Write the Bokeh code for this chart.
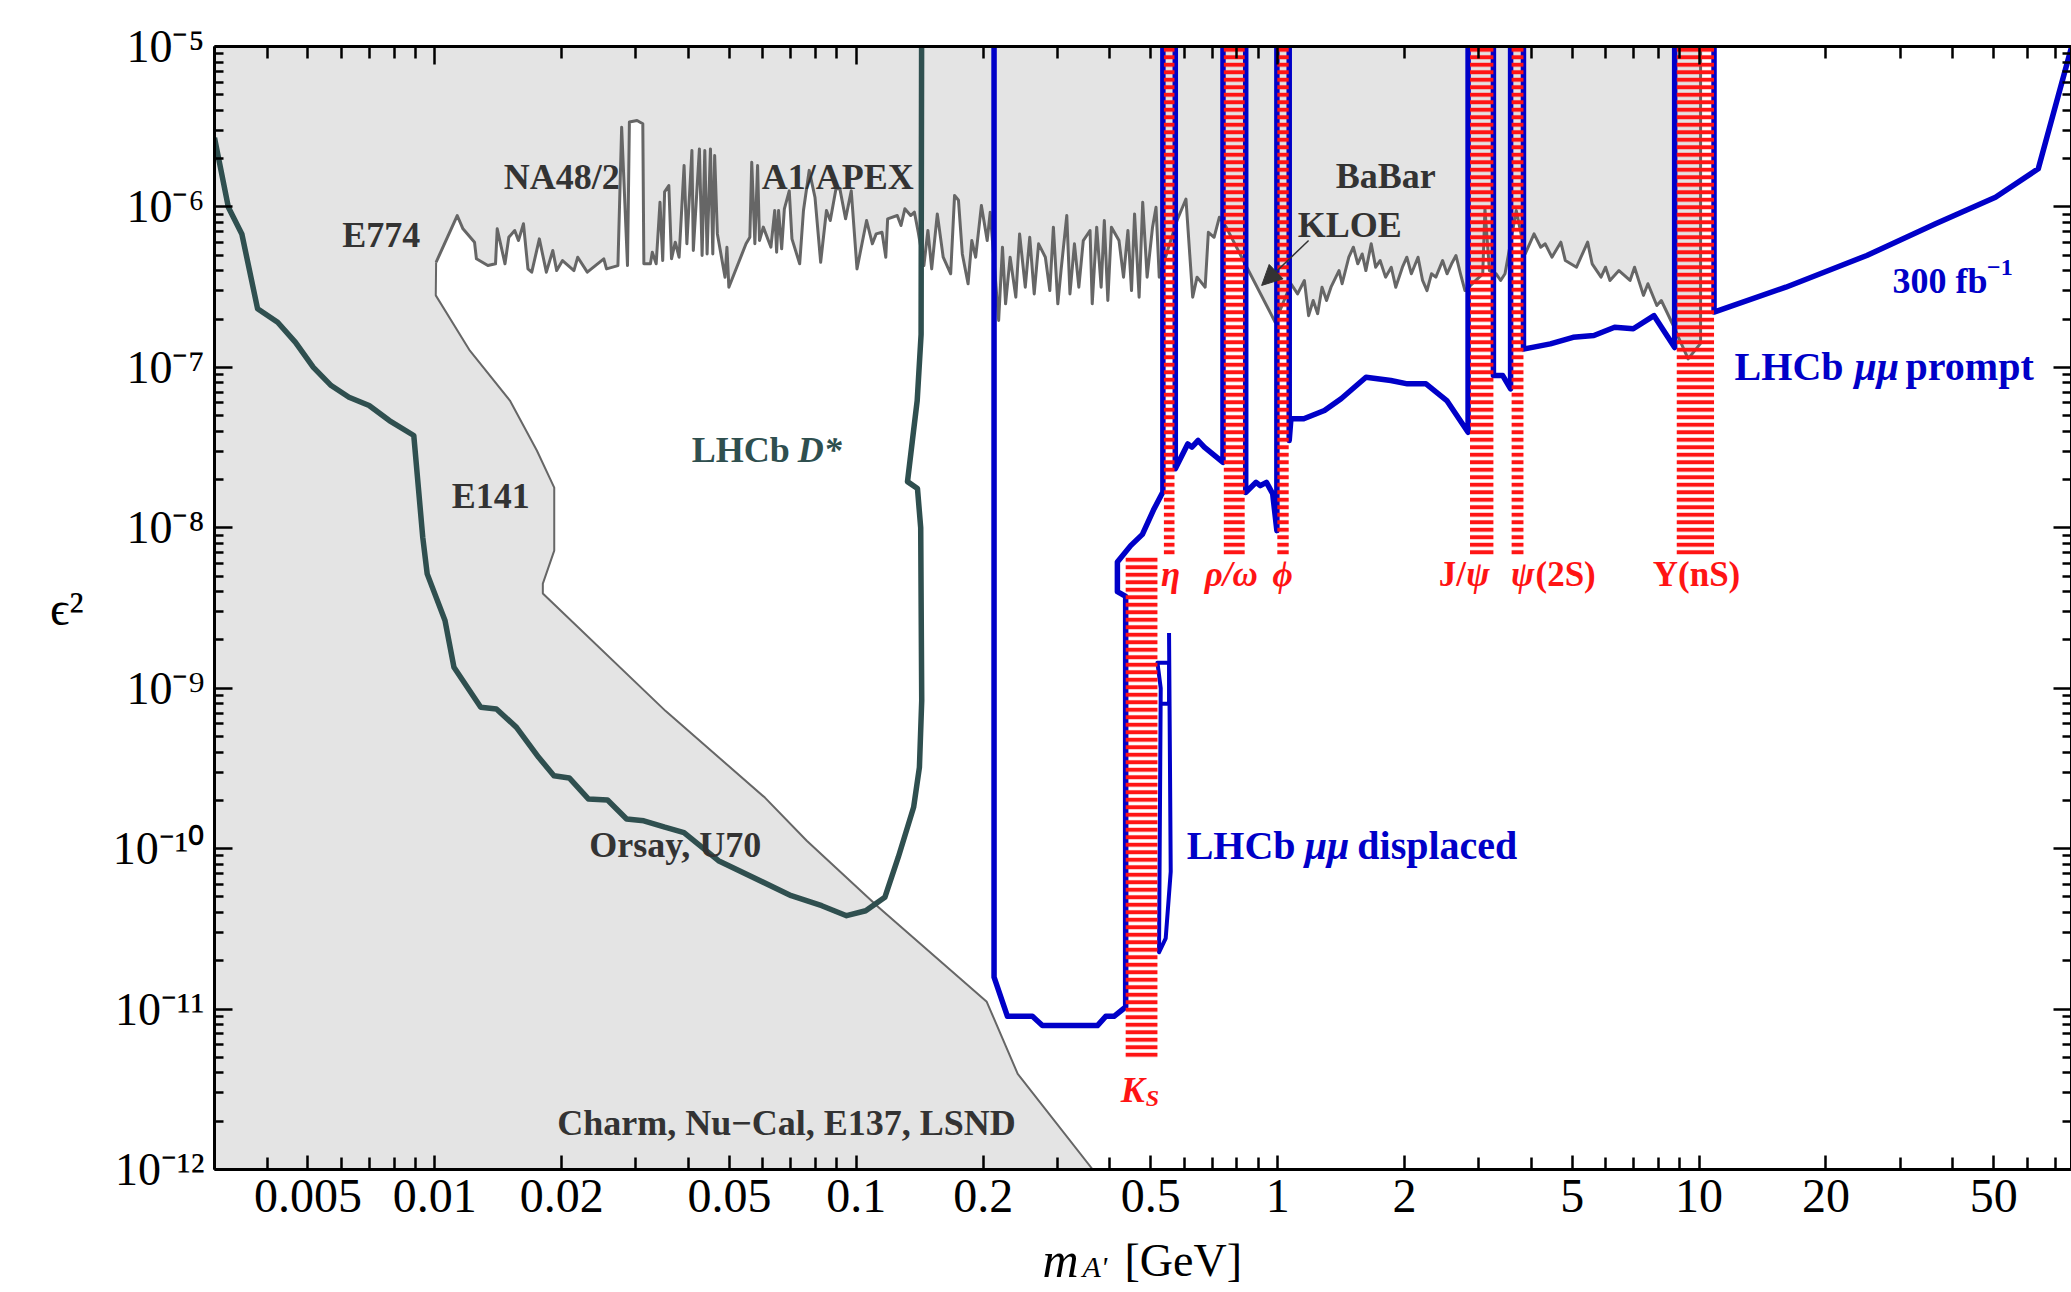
from bokeh.plotting import figure
from bokeh.models import Range1d, FixedTicker, LogAxis, Label, Arrow, NormalHead
from bokeh.embed import file_html
from bokeh.resources import INLINE

# ---------------- data (m in GeV, eps^2) ----------------
# upper bound of the allowed window: E774 corner, NA48/2, A1/APEX, KLOE, BaBar
upper_bound = [
    (0.01007, 4.52e-7), (0.01130, 8.84e-7), (0.01166, 7.30e-7), (0.01242, 6.03e-7), (0.01255, 4.75e-7),
    (0.01336, 4.31e-7), (0.01393, 4.42e-7), (0.01406, 7.30e-7), (0.01467, 4.42e-7), (0.01498, 6.47e-7),
    (0.01547, 7.13e-7), (0.01579, 6.17e-7), (0.01623, 7.85e-7), (0.01663, 4.11e-7), (0.01698, 3.92e-7),
    (0.01770, 6.32e-7), (0.01839, 3.92e-7), (0.01905, 5.35e-7), (0.01946, 4.01e-7), (0.02009, 4.63e-7),
    (0.02138, 4.01e-7), (0.02183, 4.86e-7), (0.02300, 3.92e-7), (0.02517, 4.75e-7), (0.02555, 4.11e-7),
    (0.02719, 4.31e-7), (0.02775, 3.14e-6), (0.02865, 4.31e-7), (0.02895, 3.38e-6), (0.03018, 3.46e-6),
    (0.03115, 3.30e-6), (0.03133, 4.42e-7), (0.03247, 4.42e-7), (0.03281, 5.22e-7), (0.03351, 4.42e-7),
    (0.03422, 1.07e-6), (0.03473, 4.63e-7), (0.03509, 1.24e-6), (0.03591, 1.36e-6), (0.03644, 4.75e-7),
    (0.03720, 6.03e-7), (0.03798, 4.86e-7), (0.03903, 1.81e-6), (0.03963, 5.89e-7), (0.04074, 2.25e-6),
    (0.04105, 5.35e-7), (0.04244, 2.30e-6), (0.04307, 4.98e-7), (0.04371, 2.25e-6), (0.04426, 5.09e-7),
    (0.04508, 2.30e-6), (0.04566, 5.09e-7), (0.04613, 2.09e-6), (0.04682, 6.79e-7), (0.04881, 3.65e-7),
    (0.04933, 5.61e-7), (0.04985, 3.16e-7), (0.05475, 5.89e-7), (0.05591, 6.47e-7), (0.05649, 1.90e-6),
    (0.05746, 5.89e-7), (0.05832, 1.81e-6), (0.05893, 6.17e-7), (0.06017, 7.48e-7), (0.06273, 5.61e-7),
    (0.06405, 9.50e-7), (0.06472, 5.22e-7), (0.06541, 9.50e-7), (0.06652, 5.48e-7), (0.06751, 9.73e-7),
    (0.06934, 1.26e-6), (0.07037, 6.32e-7), (0.07340, 4.42e-7), (0.07494, 9.50e-7), (0.07732, 1.69e-6),
    (0.07980, 1.15e-6), (0.08232, 4.52e-7), (0.08497, 9.50e-7), (0.08676, 8.23e-7), (0.08951, 1.30e-6),
    (0.09141, 1.30e-6), (0.09432, 8.43e-7), (0.09730, 1.26e-6), (0.1004, 4.11e-7), (0.1058, 8.23e-7),
    (0.1092, 5.89e-7), (0.1115, 6.79e-7), (0.1151, 6.95e-7), (0.1175, 4.86e-7), (0.1187, 8.43e-7),
    (0.1251, 8.84e-7), (0.1277, 7.66e-7), (0.1304, 9.73e-7), (0.1346, 8.84e-7), (0.1374, 9.27e-7),
    (0.1403, 6.95e-7), (0.1447, 4.31e-7), (0.1479, 7.13e-7), (0.1510, 4.11e-7), (0.1557, 9.05e-7),
    (0.1608, 4.86e-7), (0.1675, 3.83e-7), (0.1711, 1.18e-6), (0.1748, 1.10e-6), (0.1785, 5.09e-7),
    (0.1842, 3.32e-7), (0.1880, 6.17e-7), (0.1920, 4.86e-7), (0.1981, 1.02e-6), (0.2045, 6.17e-7),
    (0.2079, 9.27e-7), (0.2177, 1.96e-7), (0.2223, 5.61e-7), (0.2261, 2.49e-7), (0.2318, 4.86e-7),
    (0.2391, 2.74e-7), (0.2441, 6.79e-7), (0.2518, 3.16e-7), (0.2580, 6.47e-7), (0.2644, 2.87e-7),
    (0.2708, 5.89e-7), (0.2810, 4.86e-7), (0.2879, 3.01e-7), (0.2936, 7.48e-7), (0.3008, 2.49e-7),
    (0.3061, 4.01e-7), (0.3159, 8.84e-7), (0.3214, 2.87e-7), (0.3294, 5.89e-7), (0.3374, 3.16e-7),
    (0.3457, 6.17e-7), (0.3587, 7.13e-7), (0.3630, 2.49e-7), (0.3720, 7.48e-7), (0.3811, 3.16e-7),
    (0.3878, 8.23e-7), (0.3953, 2.61e-7), (0.4032, 7.48e-7), (0.4202, 6.17e-7), (0.4307, 3.65e-7),
    (0.4412, 7.13e-7), (0.4499, 3.01e-7), (0.4575, 9.05e-7), (0.4690, 2.74e-7), (0.4783, 1.07e-6),
    (0.4900, 3.65e-7), (0.5047, 7.48e-7), (0.5144, 9.96e-7), (0.5235, 3.65e-7), (0.5769, 8.23e-7),
    (0.6058, 1.12e-6), (0.6285, 2.74e-7), (0.6437, 3.65e-7), (0.6728, 3.16e-7), (0.6847, 6.95e-7),
    (0.7064, 6.47e-7), (0.7272, 8.63e-7), (0.7546, 7.48e-7), (0.9865, 1.91e-7), (1.075, 3.32e-7),
    (1.115, 2.87e-7), (1.157, 3.48e-7), (1.184, 2.10e-7), (1.214, 2.61e-7), (1.244, 2.16e-7),
    (1.274, 3.16e-7), (1.306, 2.61e-7), (1.338, 3.16e-7), (1.398, 4.01e-7), (1.422, 3.32e-7),
    (1.475, 4.86e-7), (1.512, 5.61e-7), (1.549, 4.42e-7), (1.587, 5.09e-7), (1.619, 4.01e-7),
    (1.667, 5.89e-7), (1.708, 4.21e-7), (1.750, 4.63e-7), (1.803, 3.65e-7), (1.860, 4.21e-7),
    (1.906, 3.16e-7), (1.977, 4.21e-7), (2.025, 4.86e-7), (2.076, 3.83e-7), (2.153, 4.86e-7),
    (2.207, 3.48e-7), (2.261, 3.01e-7), (2.317, 3.83e-7), (2.373, 3.65e-7), (2.462, 4.63e-7),
    (2.523, 3.83e-7), (2.586, 4.42e-7), (2.649, 4.98e-7), (2.715, 3.83e-7), (2.782, 3.01e-7),
    (3.066, 3.83e-7), (3.103, 9.73e-7), (3.180, 4.01e-7), (3.299, 3.83e-7), (3.381, 3.48e-7),
    (3.463, 3.83e-7), (3.682, 9.50e-7), (3.866, 5.09e-7), (4.058, 6.79e-7), (4.209, 5.61e-7),
    (4.314, 5.89e-7), (4.475, 4.86e-7), (4.698, 6.03e-7), (4.815, 4.63e-7), (5.118, 4.21e-7),
    (5.243, 4.86e-7), (5.439, 6.03e-7), (5.574, 4.42e-7), (5.853, 3.65e-7), (5.998, 4.21e-7),
    (6.144, 3.48e-7), (6.453, 4.01e-7), (6.857, 3.48e-7), (7.027, 4.21e-7), (7.378, 2.81e-7),
    (7.560, 3.32e-7), (7.937, 2.43e-7), (8.134, 2.61e-7), (8.643, 1.87e-7), (9.418, 1.13e-7),
    (10.08, 1.41e-7), (10.08, 1.0e-5),
]

# E141 / beam-dump (Charm, Nu-Cal, E137, LSND) boundary, from E774 corner down
beam_dump = [
    (0.01007, 4.52e-7), (0.01005, 2.81e-7), (0.01211, 1.27e-7), (0.01507, 6.21e-8), (0.01746, 3.03e-8),
    (0.0192, 1.78e-8), (0.0192, 7.21e-9), (0.01804, 4.49e-9), (0.01804, 3.89e-9), (0.0353, 7.2e-10),
    (0.0607, 2.08e-10), (0.0763, 1.12e-10), (0.1131, 4.29e-11), (0.204, 1.11e-11), (0.2416, 3.95e-12),
    (0.364, 1.0e-12),
]

# LHCb D* projection
dstar = [
    (0.003, 2.7e-6), (0.003236, 9.96e-7), (0.003483, 6.79e-7), (0.003796, 2.32e-7), (0.004236, 1.91e-7),
    (0.004670, 1.43e-7), (0.005149, 1.00e-7), (0.005675, 7.70e-8), (0.006256, 6.51e-8), (0.006982, 5.78e-8),
    (0.007798, 4.66e-8), (0.008913, 3.76e-8), (0.00936, 8.73e-9), (0.00959, 5.16e-9), (0.01057, 2.64e-9),
    (0.01110, 1.35e-9), (0.01285, 7.60e-10), (0.01400, 7.43e-10), (0.01562, 5.70e-10), (0.01763, 3.71e-10),
    (0.01917, 2.85e-10), (0.02084, 2.76e-10), (0.02313, 2.04e-10), (0.02569, 2.01e-10), (0.02851, 1.53e-10),
    (0.03132, 1.49e-10), (0.03513, 1.36e-10), (0.03901, 1.26e-10), (0.04709, 8.41e-11), (0.07009, 5.09e-11),
    (0.08282, 4.41e-11), (0.09484, 3.82e-11), (0.1053, 4.10e-11), (0.1169, 4.97e-11), (0.1258, 8.84e-11),
    (0.1368, 1.81e-10), (0.1412, 3.21e-10), (0.1430, 8.4e-10), (0.1422, 1.0e-8), (0.1397, 1.76e-8),
    (0.1323, 1.94e-8), (0.1359, 3.51e-8), (0.1395, 6.2e-8), (0.1425, 1.6e-7), (0.1430, 3.0e-5),
]

# LHCb mu-mu displaced + prompt (300 fb^-1) contour
lhcb = [
    (0.2123, 3.0e-5), (0.2123, 1.58e-11), (0.2284, 9.01e-12), (0.2618, 9.01e-12), (0.2765, 7.89e-12),
    (0.3735, 7.89e-12), (0.3908, 9.01e-12), (0.4089, 9.01e-12), (0.4358, 1.03e-11), (0.4358, 3.74e-9),
    (0.4165, 4.0e-9), (0.4165, 6.12e-9), (0.4479, 7.74e-9), (0.4775, 9.10e-9), (0.5087, 1.31e-8),
    (0.534, 1.67e-8), (0.534, 3.0e-5), (0.5715, 3.0e-5), (0.5715, 2.33e-8), (0.6117, 3.33e-8),
    (0.6257, 3.18e-8), (0.6474, 3.50e-8), (0.6697, 3.18e-8), (0.7416, 2.56e-8), (0.7416, 3.0e-5),
    (0.8397, 3.0e-5), (0.8397, 1.66e-8), (0.8887, 1.92e-8), (0.9093, 1.83e-8), (0.9406, 1.92e-8),
    (0.9729, 1.63e-8), (0.9956, 9.6e-9), (0.9956, 3.0e-5), (1.065, 3.0e-5), (1.065, 3.5e-8),
    (1.075, 4.78e-8), (1.153, 4.78e-8), (1.291, 5.38e-8), (1.414, 6.37e-8), (1.620, 8.68e-8),
    (1.856, 8.28e-8), (2.031, 7.89e-8), (2.249, 7.89e-8), (2.519, 6.21e-8), (2.83, 3.94e-8),
    (2.83, 3.0e-5), (3.25, 3.0e-5), (3.25, 8.89e-8), (3.42, 8.89e-8), (3.57, 7.35e-8),
    (3.57, 3.0e-5), (3.83, 3.0e-5), (3.83, 1.30e-7), (4.436, 1.40e-7), (5.023, 1.54e-7),
    (5.628, 1.58e-7), (6.303, 1.78e-7), (6.979, 1.74e-7), (7.816, 2.10e-7), (8.75, 1.33e-7),
    (8.75, 3.0e-5), (10.85, 3.0e-5), (10.85, 2.21e-7), (16.06, 3.16e-7), (25.0, 4.98e-7),
    (36.4, 7.85e-7), (50.5, 1.15e-6), (63.8, 1.73e-6), (76.5, 9.9e-6),
]

# small displaced island just above the K_S veto
lhcb_island = [
    (0.5523, 2.21e-9), (0.5574, 7.2e-11), (0.5423, 2.76e-11), (0.5229, 2.26e-11), (0.5278, 1.0e-9),
    (0.5184, 1.44e-9), (0.5523, 1.44e-9), (0.5523, 8.0e-10), (0.5278, 8.0e-10),
]

# vetoed resonance windows
band_names = ["K_S", "η", "ρ/ω", "ϕ", "J/ψ", "ψ(2S)", "Υ(nS)"]
band_lo = [0.4358, 0.537, 0.745, 0.998, 2.86, 3.59, 8.85]
band_hi = [0.5184, 0.569, 0.835, 1.062, 3.25, 3.83, 10.85]
band_bottom = [4.88e-12, 6.7e-9, 6.7e-9, 6.7e-9, 6.7e-9, 6.7e-9, 6.7e-9]
band_top = [6.76e-9, 3.0e-5, 3.0e-5, 3.0e-5, 3.0e-5, 3.0e-5, 3.0e-5]

xtick_values = [0.005, 0.01, 0.02, 0.05, 0.1, 0.2, 0.5, 1, 2, 5, 10, 20, 50]
xtick_labels = ["0.005", "0.01", "0.02", "0.05", "0.1", "0.2", "0.5", "1", "2", "5", "10", "20", "50"]
ytick_exponents = [5, 6, 7, 8, 9, 10, 11, 12]

X_MIN, X_MAX = 0.003, 76.5
Y_MIN, Y_MAX = 1e-12, 1e-5

# ---------------- figure ----------------
FONT = "Liberation Serif"
GRAY_FILL = "#e4e4e4"
GRAY_LINE = "#666666"
DSTAR = "#2f4f4f"
BLUE = "#0000c8"
RED = "#ff1414"
TXT_GRAY = "#333333"

p = figure(width=2071, height=1292, x_axis_type="log", y_axis_type="log",
           x_range=Range1d(X_MIN, X_MAX), y_range=Range1d(Y_MIN, Y_MAX),
           output_backend="svg", toolbar_location=None,
           min_border_left=214, min_border_right=0, min_border_top=46, min_border_bottom=123)
p.grid.visible = False
p.outline_line_color = None
p.background_fill_color = "white"
p.border_fill_color = "white"

def xs(pts):
    return [a for a, b in pts]

def ys(pts):
    return [b for a, b in pts]

# gray excluded region
poly_x = [X_MIN] + xs(beam_dump)[::-1] + xs(upper_bound) + [X_MIN]
poly_y = [Y_MIN] + ys(beam_dump)[::-1] + ys(upper_bound) + [Y_MAX]
p.patch(poly_x, poly_y, fill_color=GRAY_FILL, line_color=None)

p.line(xs(beam_dump), ys(beam_dump), line_color=GRAY_LINE, line_width=2)
p.line(xs(upper_bound), ys(upper_bound), line_color=GRAY_LINE, line_width=3, line_join="round")

# projections
p.line(xs(dstar), ys(dstar), line_color=DSTAR, line_width=5.5, line_join="round")
p.line(xs(lhcb), ys(lhcb), line_color=BLUE, line_width=5.5, line_join="round")
p.line(xs(lhcb_island), ys(lhcb_island), line_color=BLUE, line_width=4, line_join="round")

# hatched resonance vetoes
p.quad(left=band_lo, right=band_hi, bottom=band_bottom, top=band_top,
       fill_color=None, line_color=None,
       hatch_pattern="horizontal_line", hatch_color=RED, hatch_scale=7.5, hatch_weight=4)

# ---------------- axes ----------------
x_minor = []
for e in range(-3, 2):
    for k in range(1, 10):
        v = round(k * 10.0 ** e, 6)
        if X_MIN <= v <= X_MAX and v not in xtick_values:
            x_minor.append(v)

xa = p.xaxis[0]
xa.ticker = FixedTicker(ticks=xtick_values, minor_ticks=x_minor)
xa.major_label_overrides = {v: t for v, t in zip(xtick_values, xtick_labels)}
xa.major_label_text_font = FONT
xa.major_label_text_font_size = "48px"
xa.major_label_text_color = "black"
xa.major_label_standoff = 10
xa.major_tick_in = 14
xa.major_tick_out = 0
xa.minor_tick_in = 12
xa.minor_tick_out = 0
xa.axis_line_width = 3
xa.major_tick_line_width = 2.5
xa.minor_tick_line_width = 2.5
# "[GeV]" part of the title; italic m and subscript A' are drawn next to it
xa.axis_label = "\u00a0" * 7 + "[GeV]"
xa.axis_label_text_font = FONT
xa.axis_label_text_font_size = "46px"
xa.axis_label_text_font_style = "normal"
xa.axis_label_text_color = "black"
xa.axis_label_standoff = 20

SUP = str.maketrans("-0123456789", "\u207b\u2070\u00b9\u00b2\u00b3\u2074\u2075\u2076\u2077\u2078\u2079")
y_major = [10.0 ** (-e) for e in ytick_exponents]
y_minor = [k * 10.0 ** e for e in range(-12, -5) for k in range(2, 10)]
blank_y = {v: "" for v in y_major}

ya = p.yaxis[0]
ya.ticker = FixedTicker(ticks=y_major, minor_ticks=y_minor)
ya.major_label_overrides = {v: "10" + ("-%d" % e).translate(SUP) for v, e in zip(y_major, ytick_exponents)}
ya.major_label_text_font = FONT
ya.major_label_text_font_size = "46px"
ya.major_label_text_color = "black"
ya.major_label_standoff = 10
ya.major_tick_in = 18
ya.major_tick_out = 0
ya.minor_tick_in = 9
ya.minor_tick_out = 0
ya.axis_line_width = 3
ya.major_tick_line_width = 2.5
ya.minor_tick_line_width = 2.5
ya.axis_label = "ϵ²"
ya.axis_label_text_font = FONT
ya.axis_label_text_font_size = "48px"
ya.axis_label_text_font_style = "normal"
ya.axis_label_text_color = "black"
ya.axis_label_standoff = 26
try:
    ya.axis_label_orientation = "horizontal"
except Exception:
    pass

top_major = [0.01, 0.1, 1, 10]
top_minor = sorted(x_minor + [v for v in xtick_values if v not in top_major])
top_axis = LogAxis(ticker=FixedTicker(ticks=top_major, minor_ticks=top_minor),
                   major_label_overrides={v: "" for v in top_major},
                   major_label_text_font_size="2px", major_tick_in=18, major_tick_out=0,
                   minor_tick_in=12, minor_tick_out=0, axis_line_width=3,
                   major_tick_line_width=2.5, minor_tick_line_width=2.5, major_label_standoff=0)
p.add_layout(top_axis, "above")

right_axis = LogAxis(ticker=FixedTicker(ticks=y_major, minor_ticks=y_minor),
                     major_label_overrides=blank_y,
                     major_label_text_font_size="2px", major_tick_in=18, major_tick_out=0,
                     minor_tick_in=9, minor_tick_out=0, axis_line_width=3,
                     major_tick_line_width=2.5, minor_tick_line_width=2.5, major_label_standoff=0)
p.add_layout(right_axis, "right")

# italic m and subscript A' of the x title (canvas-placed, held in side panels so they are not clipped)
def side_text(t, sx, sy, size, side, style="italic"):
    p.add_layout(Label(x=sx, y=sy, x_units="canvas", y_units="canvas", text=t, text_font=FONT,
                       text_font_size=f"{size}px", text_font_style=style, text_color="black",
                       text_align="left", text_baseline="alphabetic"), side)

side_text("m", 1042, 1259, 50, "left")
side_text("A'", 1082, 1266, 30, "above")

LIFT = 1.2  # labels sit slightly higher than their alphabetic baseline reading

def text(t, x, y, size, color, style="bold", align="left"):
    p.add_layout(Label(x=x, y=y * LIFT, text=t, text_font=FONT, text_font_size=f"{size}px",
                       text_font_style=style, text_color=color, text_align=align,
                       text_baseline="alphabetic"))

# region labels
text("NA48/2", 0.02001, 1.28e-6, 36, TXT_GRAY, align="center")
text("A1/APEX", 0.0904, 1.28e-6, 36, TXT_GRAY, align="center")
text("E774", 0.007464, 5.6e-7, 36, TXT_GRAY, align="center")
text("E141", 0.01358, 1.31e-8, 36, TXT_GRAY, align="center")
text("Orsay, U70", 0.0372, 8.83e-11, 36, TXT_GRAY, align="center")
text("Charm, Nu\u2212Cal, E137, LSND", 0.06832, 1.625e-12, 36, TXT_GRAY, align="center")
text("BaBar", 1.804, 1.29e-6, 36, TXT_GRAY, align="center")
text("KLOE", 1.482, 6.47e-7, 36, TXT_GRAY, align="center")
p.add_layout(Arrow(end=NormalHead(size=20, fill_color="#333333", line_color="#333333"),
                   x_start=1.184, y_start=6.17e-7, x_end=0.916, y_end=3.24e-7,
                   line_color="#333333", line_width=1.5))

text("LHCb", 0.04071, 2.55e-8, 36, DSTAR)
text("D*", 0.07265, 2.55e-8, 36, DSTAR, style="bold italic")

text("LHCb", 0.6082, 8.67e-11, 40, BLUE)
text("μμ", 1.159, 8.67e-11, 40, BLUE, style="bold italic")
text("displaced", 1.545, 8.67e-11, 40, BLUE)

text("LHCb", 12.14, 8.47e-8, 40, BLUE)
text("μμ", 23.38, 8.47e-8, 40, BLUE, style="bold italic")
text("prompt", 30.9, 8.47e-8, 40, BLUE)

text("300 fb", 28.78, 2.87e-7, 36, BLUE)
text("\u22121", 48.2, 3.48e-7, 24, BLUE)

# resonance labels (upright parts bold, Greek letters bold italic)
RES_Y = 4.26e-9
text("η", 0.5574, RES_Y, 35, RED, style="bold italic", align="center")
text("ρ/ω", 0.7760, RES_Y, 35, RED, style="bold italic", align="center")
text("ϕ", 1.028, RES_Y, 35, RED, style="bold italic", align="center")
text("J/", 2.41, RES_Y, 35, RED)
text("ψ", 2.80, RES_Y, 35, RED, style="bold italic")
text("ψ", 3.58, RES_Y, 35, RED, style="bold italic")
text("(2S)", 4.09, RES_Y, 35, RED)
text("Υ(nS)", 9.859, RES_Y, 35, RED, align="center")
text("K", 0.4241, 2.62e-12, 36, RED, style="bold italic")
text("S", 0.4862, 2.33e-12, 24, RED, style="bold italic")

open("out.html", "w").write(file_html(p, INLINE))
